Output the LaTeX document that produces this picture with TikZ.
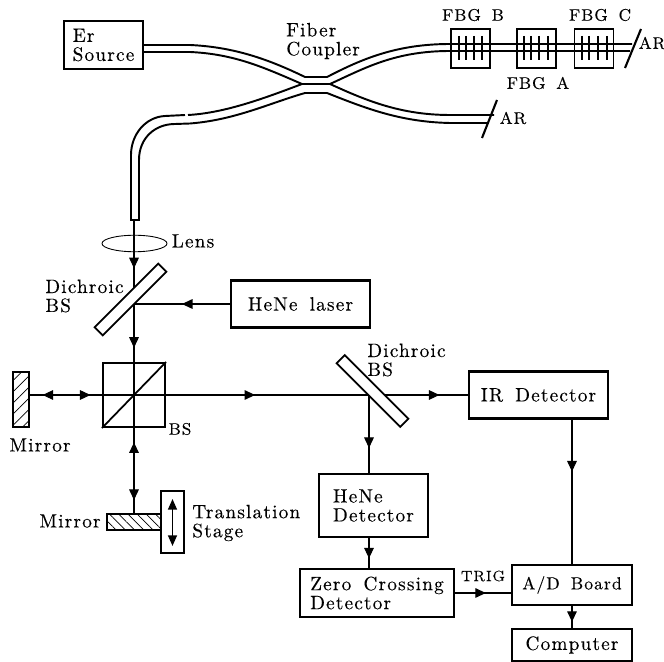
\documentclass[tikz,border=0pt]{standalone}
\usepackage{fontspec}
\usepackage{tikz}
\usetikzlibrary{
    arrows.meta,
    patterns.meta,
    shapes.geometric,
    decorations.markings
}

\newfontfamily\lblfont{Latin Modern Roman}[LetterSpace=6,WordSpace=1.6,FakeBold=0.2]

\tikzset{
    lbl/.style={font=\lblfont\fontsize{11}{10.8}\selectfont,align=left,inner sep=0pt},
    caplbl/.style={font=\lblfont\fontsize{9.5}{10.8}\selectfont,align=left,inner sep=0pt},
    box/.style={draw,line width=1.2pt,inner sep=0pt},
    plate/.style={draw,fill=white,line width=1.1pt,inner sep=0pt,rotate=#1,minimum width=1.8cm,minimum height=0.23cm},
    beam/.style={line width=0.6pt},
    fiber/.style={line width=1.1pt},
    tip at/.style={postaction={decorate,decoration={markings,mark=at position #1 with {\arrow{Triangle[length=6pt,width=5.5pt]}}}}},
    back at/.style={postaction={decorate,decoration={markings,mark=at position #1 with {\arrow{Triangle[reversed,length=6pt,width=5.5pt]}}}}}
}

\begin{document}
\begin{tikzpicture}[x=0.02cm,y=-0.02cm]
\useasboundingbox (0,0) rectangle (664,662);

% Source
\node[box,minimum width=1.58cm,minimum height=0.96cm,lbl] (source) at (103.5,45) {Er\\Source};

% Fiber coupler
\draw[fiber] (143,45) -- (190,45) .. controls (235,47) and (270,60) .. (305,77) -- (327,77)
    .. controls (360,60) and (395,44) .. (450,44) -- (632,44);
\draw[fiber] (143,52) -- (190,52) .. controls (235,54) and (265,68) .. (302,84) -- (330,84)
    .. controls (365,68) and (395,51) .. (450,51) -- (630,51);
\draw[fiber] (302,84) .. controls (265,98) and (225,113) .. (188,115);
\draw[fiber] (185,115) -- (165,116) .. controls (145,117) and (131,135) .. (131,155) -- (131,220)
    -- (139,220) -- (139,160) .. controls (139,138) and (155,124) .. (175,124) -- (190,123.5)
    .. controls (235,120) and (270,103) .. (305,93) -- (327,93)
    .. controls (365,108) and (400,122) .. (450,123) -- (488,123);
\draw[fiber] (330,84) .. controls (365,100) and (400,115) .. (450,115) -- (494,115);

% Gratings
\node[draw,line width=0.8pt,minimum width=0.78cm,minimum height=0.78cm] (fbgb) at (470.5,48.5) {};
\node[draw,line width=0.8pt,minimum width=0.78cm,minimum height=0.78cm] (fbga) at (536.5,48.5) {};
\node[draw,line width=0.8pt,minimum width=0.78cm,minimum height=0.78cm] (fbgc) at (594,48.5) {};
\foreach \x in {459,466,474,482,524,531,539,548,582,589,598,607}
    \draw[line width=1.3pt] (\x,36) -- (\x,60);

% AR ends
\draw[line width=1.2pt] (641,29) -- (625,68);
\draw[line width=1.2pt] (497,100) -- (482,138);

\node[caplbl] (fbgbl) at (473,15) {FBG B};
\node[caplbl] (fbgcl) at (600,15) {FBG C};
\node[caplbl] (fbgal) at (538,83) {FBG A};
\node[caplbl] (arone) at (652,43) {AR};
\node[caplbl] (artwo) at (513,118) {AR};
\node[lbl,anchor=west] (coupler) at (286,41) {Fiber\\Coupler};

% Boxes
\node[box,minimum width=2.78cm,minimum height=0.94cm,lbl] (laser) at (300.5,304) {HeNe laser};
\node[box,minimum width=1.24cm,minimum height=1.28cm] (bscube) at (134,395) {};
\node[box,minimum width=2.78cm,minimum height=0.94cm,lbl] (irdet) at (538.5,395) {IR Detector};
\node[box,minimum width=2.18cm,minimum height=1.26cm,lbl] (henedet) at (373.5,505.5) {HeNe\\Detector};
\node[box,minimum width=3.08cm,minimum height=0.96cm,lbl] (zerodet) at (377,593) {Zero Crossing\\Detector};
\node[box,minimum width=2.4cm,minimum height=0.8cm,font=\lblfont\fontsize{10}{10.8}\selectfont] (adboard) at (572,585) {A/D Board};
\node[box,minimum width=2.4cm,minimum height=0.64cm,lbl] (computer) at (572,645) {Computer};

% Mirrors and stage
\node[box,pattern={Lines[angle=45,distance=4.5pt,line width=0.4pt]},minimum width=0.32cm,minimum height=1.1cm] (mirrora) at (21,399.5) {};
\node[box,pattern={Lines[angle=-45,distance=3.7pt,line width=0.4pt]},minimum width=1.08cm,minimum height=0.32cm] (mirrorb) at (134,522) {};
\node[draw,line width=0.8pt,minimum width=0.46cm,minimum height=1.24cm] (stage) at (172.5,522) {};

% Beams
\coordinate (fiberend) at (134,220);
\coordinate (hita) at (134,304);
\coordinate (hitb) at (369,395);
\coordinate (mirrorhit) at (29,395);
\coordinate (stagetop) at (172.5,499);
\coordinate (stagebot) at (172.5,546);
\draw[beam,tip at=0.34,tip at=0.9] (fiberend) -- (bscube.north);
\draw[beam,back at=0.055,tip at=0.14,tip at=0.515,tip at=0.935] (mirrorhit) -- (irdet.west |- mirrorhit);
\draw[beam,back at=0.60,tip at=0.91] (bscube.north) -- (mirrorb.north);
\draw[beam,tip at=0.5] (laser.west) -- (hita);
\draw[beam,tip at=0.68] (hitb) -- (hitb |- henedet.north);
\draw[beam,tip at=0.68] (hitb |- henedet.south) -- (hitb |- zerodet.north);
\draw[beam,tip at=0.36] (adboard.north |- irdet.south) -- (adboard.north);
\draw[beam,tip at=0.55] (zerodet.east) -- (zerodet.east -| adboard.west);
\draw[beam,tip at=0.72] (adboard.south) -- (computer.north);
\draw[line width=1pt,{Triangle[length=6pt,width=5pt]}-{Triangle[length=6pt,width=5pt]}] (stagetop) -- (stagebot);

% Beam splitter diagonal
\draw[line width=1pt] (bscube.south west) -- (bscube.north east);

% Lens
\node[draw,ellipse,line width=0.5pt,minimum width=1.3cm,minimum height=0.33cm,inner sep=0pt] (lens) at (134.5,243.5) {};

% Dichroic plates
\node[plate=45] (dbsa) at (130.5,299.5) {};
\node[plate=-45] (dbsb) at (372.5,391) {};

% Labels
\node[lbl] (lenslbl) at (193,241) {Lens};
\node[lbl,anchor=west] (dbsalbl) at (45,296) {Dichroic\\BS};
\node[lbl,anchor=west] (dbsblbl) at (367,360) {Dichroic\\BS};
\node[caplbl] (bslbl) at (180,429) {BS};
\node[lbl] (mirroralbl) at (40,445) {Mirror};
\node[lbl] (mirrorblbl) at (70,521) {Mirror};
\node[lbl,anchor=west] (stagelbl) at (192,523) {Translation\\Stage};
\node[font=\lblfont\fontsize{8.5}{10.8}\selectfont,inner sep=0pt] (triglbl) at (483,576) {TRIG};

\end{tikzpicture}
\end{document}
